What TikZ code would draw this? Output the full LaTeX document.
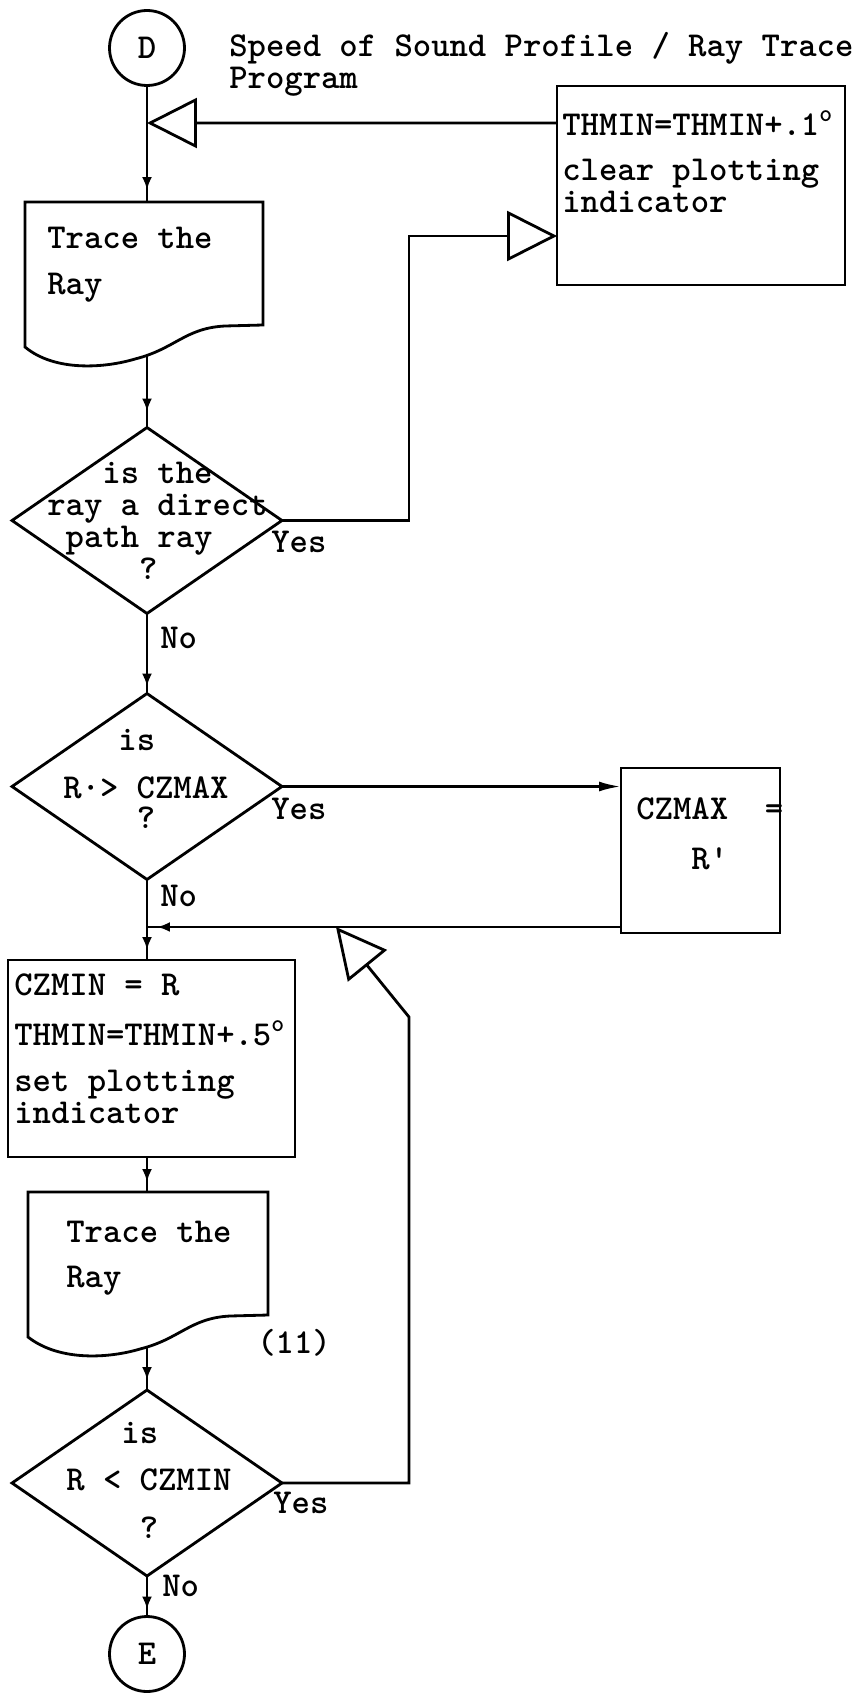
\documentclass[tikz,border=0pt]{standalone}
\usetikzlibrary{arrows.meta,shapes.geometric,decorations.markings}

\tikzset{
  wire/.style={line width=1.6pt, line join=miter},
  flow/.style={wire, postaction={decorate},
    decoration={markings, mark=at position -#1 with {\arrow{Latex[length=0.26cm,width=0.2cm]}}}},
  flow/.default=0.2cm,
  opentip/.style={-{Triangle[open,length=1cm,width=1cm]}},
  terminal/.style={draw, wire, circle, minimum size=1.5cm, inner sep=0pt, outer sep=0pt},
  procbox/.style={draw, wire, rectangle, inner sep=0pt, outer sep=0pt},
  decision/.style={draw, wire, diamond, minimum width=5.4cm, minimum height=3.72cm,
    inner sep=0pt, outer sep=0pt},
  txt/.style={inner sep=0pt, align=left, anchor=north west},
  tag/.style={inner sep=0pt, anchor=base west},
}

\begin{document}
\begin{tikzpicture}[x=0.02cm, y=-0.02cm,
    font=\ttfamily\bfseries\fontsize{19.9pt}{17.1pt}\selectfont]
  \useasboundingbox (0,0) rectangle (862,1693);
  % Connectors and title
  \node[terminal] (D) at (147,48) {D};
  \node[txt] (title) at (229,32) {Speed of Sound Profile / Ray Trace\\[0.04cm]Program};
  % Plotting indicator box
  \node[procbox, minimum width=5.76cm, minimum height=3.98cm] (thmin) at (701,185.5) {};
  \node[txt] (thminT) at (562,113)
    {THMIN=THMIN+.1\smash{\textsuperscript{o}}\\[0.3cm]clear plotting\\[0.05cm]indicator};
  % First ray trace (document shape)
  \draw[wire] (25,202) -- (263,202) -- (263,325) -- (225,326)
    .. controls (185,328) and (175,349) .. (135,359)
    .. controls (105,368) and (55,372) .. (25,347) -- cycle;
  \node[txt] (trace1) at (47,227) {Trace the\\[0.32cm]Ray};
  \coordinate (trace1in) at (147,202);
  \coordinate (trace1out) at (147,355);
  % Decisions
  \node[decision] (q1) at (147,520.5) {};
  \node[txt] (q1T) at (47,462)
    {\hphantom{xxx}is the\\[0.04cm]ray a direct\\[0.04cm]\hphantom{x}path ray\\[0.04cm]\hphantom{xxxxx}?};
  \node[decision] (q2) at (147,786.5) {};
  \node[txt] (q2T) at (63,729)
    {\hphantom{xxx}is\\[0.36cm]R\textperiodcentered> CZMAX\\\hphantom{xxxx}?};
  % Maximum box
  \node[procbox, minimum width=3.18cm, minimum height=3.3cm] (czmax) at (700.5,850.5) {};
  \node[txt] (czmaxT) at (636,797) {CZMAX\ \ =\\[0.4cm]\hphantom{xxx}R\rlap{'}};
  % Minimum box
  \node[procbox, minimum width=5.74cm, minimum height=3.94cm] (czmin) at (151.5,1058.5) {};
  \node[txt] (czminT) at (14,973)
    {CZMIN = R\\[0.4cm]THMIN=THMIN+.5\smash{\textsuperscript{o}}\\[0.32cm]set plotting\\[0.04cm]indicator};
  % Second ray trace (document shape)
  \draw[wire] (28,1192) -- (268,1192) -- (268,1315) -- (230,1316)
    .. controls (190,1318) and (180,1339) .. (140,1349)
    .. controls (110,1358) and (60,1362) .. (28,1337) -- cycle;
  \node[txt] (trace2) at (66,1221) {Trace the\\[0.3cm]Ray};
  \node[tag] (step11) at (257,1353) {(11)};
  \coordinate (trace2in) at (147,1192);
  \coordinate (trace2out) at (147,1347);
  \node[decision] (q3) at (147,1483) {};
  \node[txt] (q3T) at (66,1422)
    {\hphantom{xxx}is\\[0.34cm]R < CZMIN\\[0.36cm]\hphantom{xxxx}?};
  \node[terminal] (E) at (147,1654) {E};
  % Yes / No labels
  \node[tag] (q1yes) at ([shift={(-11,32)}]q1.east) {Yes};
  \node[tag] (q2yes) at ([shift={(-11,33)}]q2.east) {Yes};
  \node[tag] (q3yes) at ([shift={(-9,30)}]q3.east) {Yes};
  \node[tag] (q1no) at ([shift={(13,35)}]q1.south) {No};
  \node[tag] (q2no) at ([shift={(13,27)}]q2.south) {No};
  \node[tag] (q3no) at ([shift={(15,20)}]q3.south) {No};
  % Main line
  \draw[flow=0.24cm] (D) -- (trace1in);
  \draw[flow=0.32cm] (trace1out) -- (q1.north);
  \draw[flow=0.14cm] (q1.south) -- (q2.north);
  \draw[flow] (q2.south) -- (q2.south |- czmin.north);
  \draw[flow] (czmin.south -| trace2in) -- (trace2in);
  \draw[flow] (trace2out) -- (q3.north);
  \draw[flow=0.14cm] (q3.south) -- (E);
  % Yes branches
  \coordinate (joinD) at (147,123);
  \draw[wire, opentip] ([yshift=-0.74cm]thmin.north west) -- (joinD);
  \coordinate (loopA) at (409,236);
  \draw[wire, opentip] (q1.east) -| (loopA) -- (thmin.west |- loopA);
  \draw[wire, -{Latex[length=0.44cm,width=0.2cm]}] (q2.east) -- (czmax.west |- q2.east);
  \coordinate (ret) at ([yshift=0.12cm]czmax.south west);
  \draw[flow] (ret) -- (ret -| q2.south);
  \coordinate (loopB) at (409,1017);
  \coordinate (tipB) at (336,927);
  \draw[wire, opentip] (q3.east) -| (loopB) -- (tipB);
\end{tikzpicture}
\end{document}
